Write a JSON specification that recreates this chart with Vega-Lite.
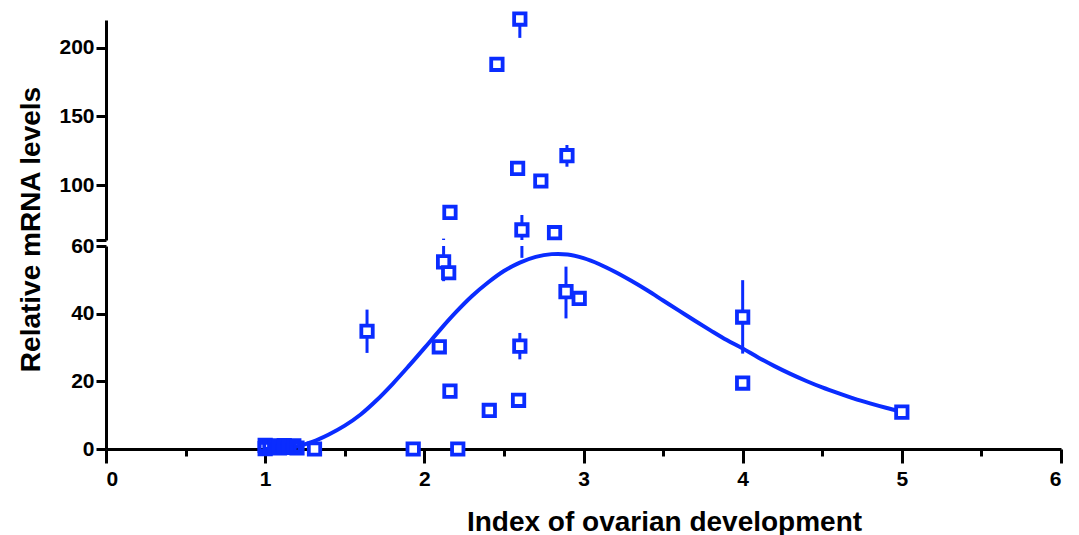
{
  "$schema": "https://vega.github.io/schema/vega-lite/v6.json",
  "background": "white",
  "padding": {"left": 17, "top": 5, "right": 10, "bottom": 5},
  "config": {
    "font": "Liberation Sans",
    "view": {"stroke": null},
    "axis": {
      "domainColor": "black", "domainWidth": 3, "tickColor": "black", "tickWidth": 3,
      "labelFont": "Liberation Sans", "labelFontWeight": "bold", "labelFontSize": 21, "labelColor": "black",
      "titleFont": "Liberation Sans", "titleFontWeight": "bold", "titleFontSize": 28, "titleColor": "black",
      "grid": false
    }
  },
  "datasets": {
    "pts": [
      {"x": 1.0, "y": 1.1, "lo": null, "hi": null},
      {"x": 1.0, "y": 0.1, "lo": null, "hi": null},
      {"x": 1.03, "y": 0.6, "lo": null, "hi": null},
      {"x": 1.06, "y": 0.9, "lo": null, "hi": null},
      {"x": 1.09, "y": 0.3, "lo": null, "hi": null},
      {"x": 1.12, "y": 1.0, "lo": null, "hi": null},
      {"x": 1.15, "y": 0.5, "lo": null, "hi": null},
      {"x": 1.18, "y": 0.9, "lo": null, "hi": null},
      {"x": 1.2, "y": 0.3, "lo": null, "hi": null},
      {"x": 1.31, "y": 0, "lo": null, "hi": null},
      {"x": 1.64, "y": 34.8, "lo": 28.4, "hi": 41.2},
      {"x": 1.93, "y": 0, "lo": null, "hi": null},
      {"x": 2.094, "y": 30.2, "lo": 28.7, "hi": 31.7},
      {"x": 2.121, "y": 55.3, "lo": 49.6, "hi": 61},
      {"x": 2.153, "y": 52.1, "lo": null, "hi": null},
      {"x": 2.161, "y": 80.1, "lo": null, "hi": null},
      {"x": 2.161, "y": 17.1, "lo": null, "hi": null},
      {"x": 2.21, "y": 0, "lo": null, "hi": null},
      {"x": 2.408, "y": 11.4, "lo": null, "hi": null},
      {"x": 2.456, "y": 187.8, "lo": null, "hi": null},
      {"x": 2.586, "y": 112.1, "lo": null, "hi": null},
      {"x": 2.592, "y": 14.4, "lo": null, "hi": null},
      {"x": 2.6, "y": 30.4, "lo": 26.5, "hi": 34.3},
      {"x": 2.6, "y": 220.7, "lo": 207, "hi": 234},
      {"x": 2.613, "y": 67.3, "lo": 56.5, "hi": 78.2},
      {"x": 2.732, "y": 102.9, "lo": null, "hi": null},
      {"x": 2.818, "y": 65.3, "lo": null, "hi": null},
      {"x": 2.89, "y": 46.5, "lo": 38.6, "hi": 53.9},
      {"x": 2.896, "y": 121.3, "lo": 113.3, "hi": 129.1},
      {"x": 2.973, "y": 44.5, "lo": null, "hi": null},
      {"x": 4.0, "y": 39.0, "lo": 28.2, "hi": 49.9},
      {"x": 4.0, "y": 19.5, "lo": null, "hi": null},
      {"x": 5.0, "y": 10.9, "lo": null, "hi": null}
    ],
    "fit": [
      {"x": 1.0, "y": 0}, {"x": 1.1, "y": 0.2}, {"x": 1.2, "y": 0.8}, {"x": 1.3, "y": 2.2},
      {"x": 1.4, "y": 4.3}, {"x": 1.5, "y": 6.9}, {"x": 1.6, "y": 10.2}, {"x": 1.7, "y": 14.4},
      {"x": 1.8, "y": 19.2}, {"x": 1.9, "y": 24.4}, {"x": 2.0, "y": 29.8}, {"x": 2.1, "y": 35.3},
      {"x": 2.2, "y": 40.5}, {"x": 2.3, "y": 45.2}, {"x": 2.4, "y": 49.2}, {"x": 2.5, "y": 52.6},
      {"x": 2.6, "y": 55.1}, {"x": 2.7, "y": 56.8}, {"x": 2.8, "y": 57.6}, {"x": 2.9, "y": 57.5},
      {"x": 3.0, "y": 56.4}, {"x": 3.1, "y": 54.6}, {"x": 3.2, "y": 52.3}, {"x": 3.3, "y": 49.7},
      {"x": 3.4, "y": 46.9}, {"x": 3.5, "y": 43.9}, {"x": 3.6, "y": 40.9}, {"x": 3.7, "y": 37.9},
      {"x": 3.8, "y": 35.0}, {"x": 3.9, "y": 32.2}, {"x": 4.0, "y": 29.7}, {"x": 4.1, "y": 27.0},
      {"x": 4.2, "y": 24.5}, {"x": 4.3, "y": 22.2}, {"x": 4.4, "y": 20.1}, {"x": 4.5, "y": 18.2},
      {"x": 4.6, "y": 16.5}, {"x": 4.7, "y": 14.9}, {"x": 4.8, "y": 13.5}, {"x": 4.9, "y": 12.2},
      {"x": 5.0, "y": 11.0}
    ]
  },
  "vconcat": [
    {
      "width": 955,
      "height": 220,
      "layer": [
        {
          "data": {"name": "pts"},
          "transform": [{"filter": "datum.lo != null"}],
          "mark": {"type": "rule", "clip": true, "color": "#0a2cff", "strokeWidth": 3},
          "encoding": {
            "x": {"field": "x", "type": "quantitative", "scale": {"domain": [0, 6]}, "axis": null},
            "y": {"field": "lo", "type": "quantitative", "scale": {"domain": [60, 220]},
              "axis": {"values": [60, 100, 150, 200], "labelExpr": "datum.value == 60 ? '' : datum.label",
                "tickSize": 10, "labelPadding": 2, "title": null}},
            "y2": {"field": "hi"}
          }
        },
        {
          "data": {"name": "pts"},
          "transform": [{"filter": "datum.y >= 60"}],
          "mark": {"type": "point", "shape": "square", "size": 130, "filled": true, "fill": "white",
            "stroke": "#0a2cff", "strokeWidth": 3.8, "opacity": 1},
          "encoding": {
            "x": {"field": "x", "type": "quantitative"},
            "y": {"field": "y", "type": "quantitative"}
          }
        }
      ]
    },
    {
      "width": 955,
      "height": 203,
      "layer": [
        {
          "data": {"name": "fit"},
          "mark": {"type": "line", "clip": true, "color": "#0a2cff", "strokeWidth": 4, "interpolate": "catmull-rom"},
          "encoding": {
            "x": {"field": "x", "type": "quantitative", "scale": {"domain": [0, 6]},
              "axis": {"values": [0, 0.5, 1, 1.5, 2, 2.5, 3, 3.5, 4, 4.5, 5, 5.5, 6],
                "labelExpr": "datum.value % 1 == 0 ? format(datum.value, 'd') : ''",
                "tickSize": {"condition": {"test": "datum.value % 1 == 0", "value": 14}, "value": 7},
                "labelPadding": 5, "titlePadding": 19, "title": "Index of ovarian development", "titleX": 558}},
            "y": {"field": "y", "type": "quantitative", "scale": {"domain": [0, 60]},
              "axis": {"values": [0, 20, 40, 60], "tickSize": 10, "labelPadding": 2,
                "title": "Relative mRNA levels", "titlePadding": 25, "titleY": -17}}
          }
        },
        {
          "data": {"name": "pts"},
          "transform": [{"filter": "datum.lo != null"}],
          "mark": {"type": "rule", "clip": true, "color": "#0a2cff", "strokeWidth": 3},
          "encoding": {
            "x": {"field": "x", "type": "quantitative"},
            "y": {"field": "lo", "type": "quantitative"},
            "y2": {"field": "hi"}
          }
        },
        {
          "data": {"name": "pts"},
          "transform": [{"filter": "datum.y < 60 && datum.x < 1.25"}],
          "mark": {"type": "point", "shape": "square", "size": 130, "filled": false,
            "color": "#0a2cff", "strokeWidth": 3.8, "opacity": 1},
          "encoding": {
            "x": {"field": "x", "type": "quantitative"},
            "y": {"field": "y", "type": "quantitative"}
          }
        },
        {
          "data": {"name": "pts"},
          "transform": [{"filter": "datum.y < 60 && datum.x >= 1.25"}],
          "mark": {"type": "point", "shape": "square", "size": 130, "filled": true, "fill": "white",
            "stroke": "#0a2cff", "strokeWidth": 3.8, "opacity": 1},
          "encoding": {
            "x": {"field": "x", "type": "quantitative"},
            "y": {"field": "y", "type": "quantitative"}
          }
        }
      ]
    }
  ],
  "spacing": 6,
  "bounds": "flush"
}
